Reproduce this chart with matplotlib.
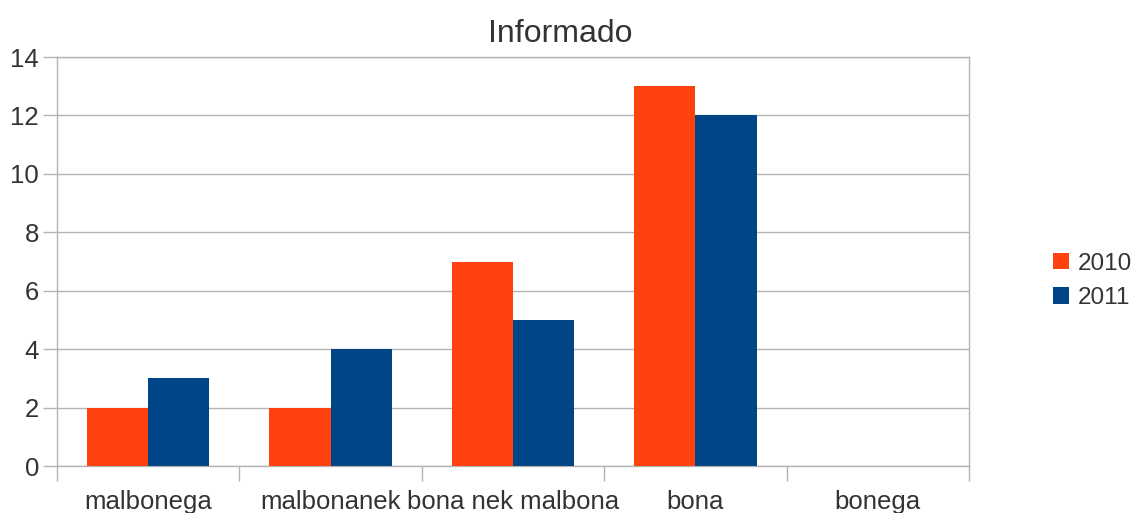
import matplotlib
matplotlib.use("Agg")
import matplotlib.pyplot as plt
import numpy as np

cat_labels = ["malbonega", "malbonanek", "bona nek malbona", "bona", "bonega"]
series_names = ["2010", "2011"]
values_2010 = [2, 2, 7, 13, 0]
values_2011 = [3, 4, 5, 12, 0]
colors = ["#FF420E", "#004586"]
yticks = [0, 2, 4, 6, 8, 10, 12, 14]

plt.rcParams['font.family'] = ['Liberation Sans', 'DejaVu Sans']
text_color = "#333333"
grid_color = "#b3b3b3"

fig = plt.figure(figsize=(11.35, 5.13), dpi=100)
ax = fig.add_axes([57/1135, 47/513, (969-57)/1135, (466-57)/513])

x = np.arange(len(cat_labels))
w = 0.335
ax.bar(x - w/2, values_2010, w, color=colors[0], label=series_names[0], zorder=3)
ax.bar(x + w/2, values_2011, w, color=colors[1], label=series_names[1], zorder=3)

ax.set_xlim(-0.5, len(cat_labels) - 0.5)
ax.set_ylim(0, 14)
ax.set_yticks(yticks)
ax.set_yticklabels([str(v) for v in yticks])
ax.yaxis.grid(True, color=grid_color, linewidth=1, zorder=0)
ax.set_axisbelow(True)

ax.set_xticks(x)
ax.set_xticklabels(cat_labels)
ax.set_xticks(np.arange(len(cat_labels) + 1) - 0.5, minor=True)
ax.tick_params(axis='x', which='major', length=0, pad=17, labelsize=18.5, colors=text_color)
ax.tick_params(axis='x', which='minor', length=11, color=grid_color, width=1)
ax.tick_params(axis='y', length=10, color=grid_color, width=1, labelsize=18.5,
               labelcolor=text_color, pad=3)

for s in ax.spines.values():
    s.set_color(grid_color)
    s.set_linewidth(1)

fig.text(560/1135, 1 - 42/513, "Informado", fontsize=23, color=text_color,
         ha='center', va='baseline')

leg = fig.legend(loc='center left', bbox_to_anchor=(1053/1135, 1 - 281/513),
                 frameon=False, fontsize=17.5, handlelength=0.65, handleheight=0.65,
                 handletextpad=0.35, labelspacing=0.5, borderaxespad=0, borderpad=0)
for t in leg.get_texts():
    t.set_color(text_color)

fig.savefig("out.png", dpi=100)
